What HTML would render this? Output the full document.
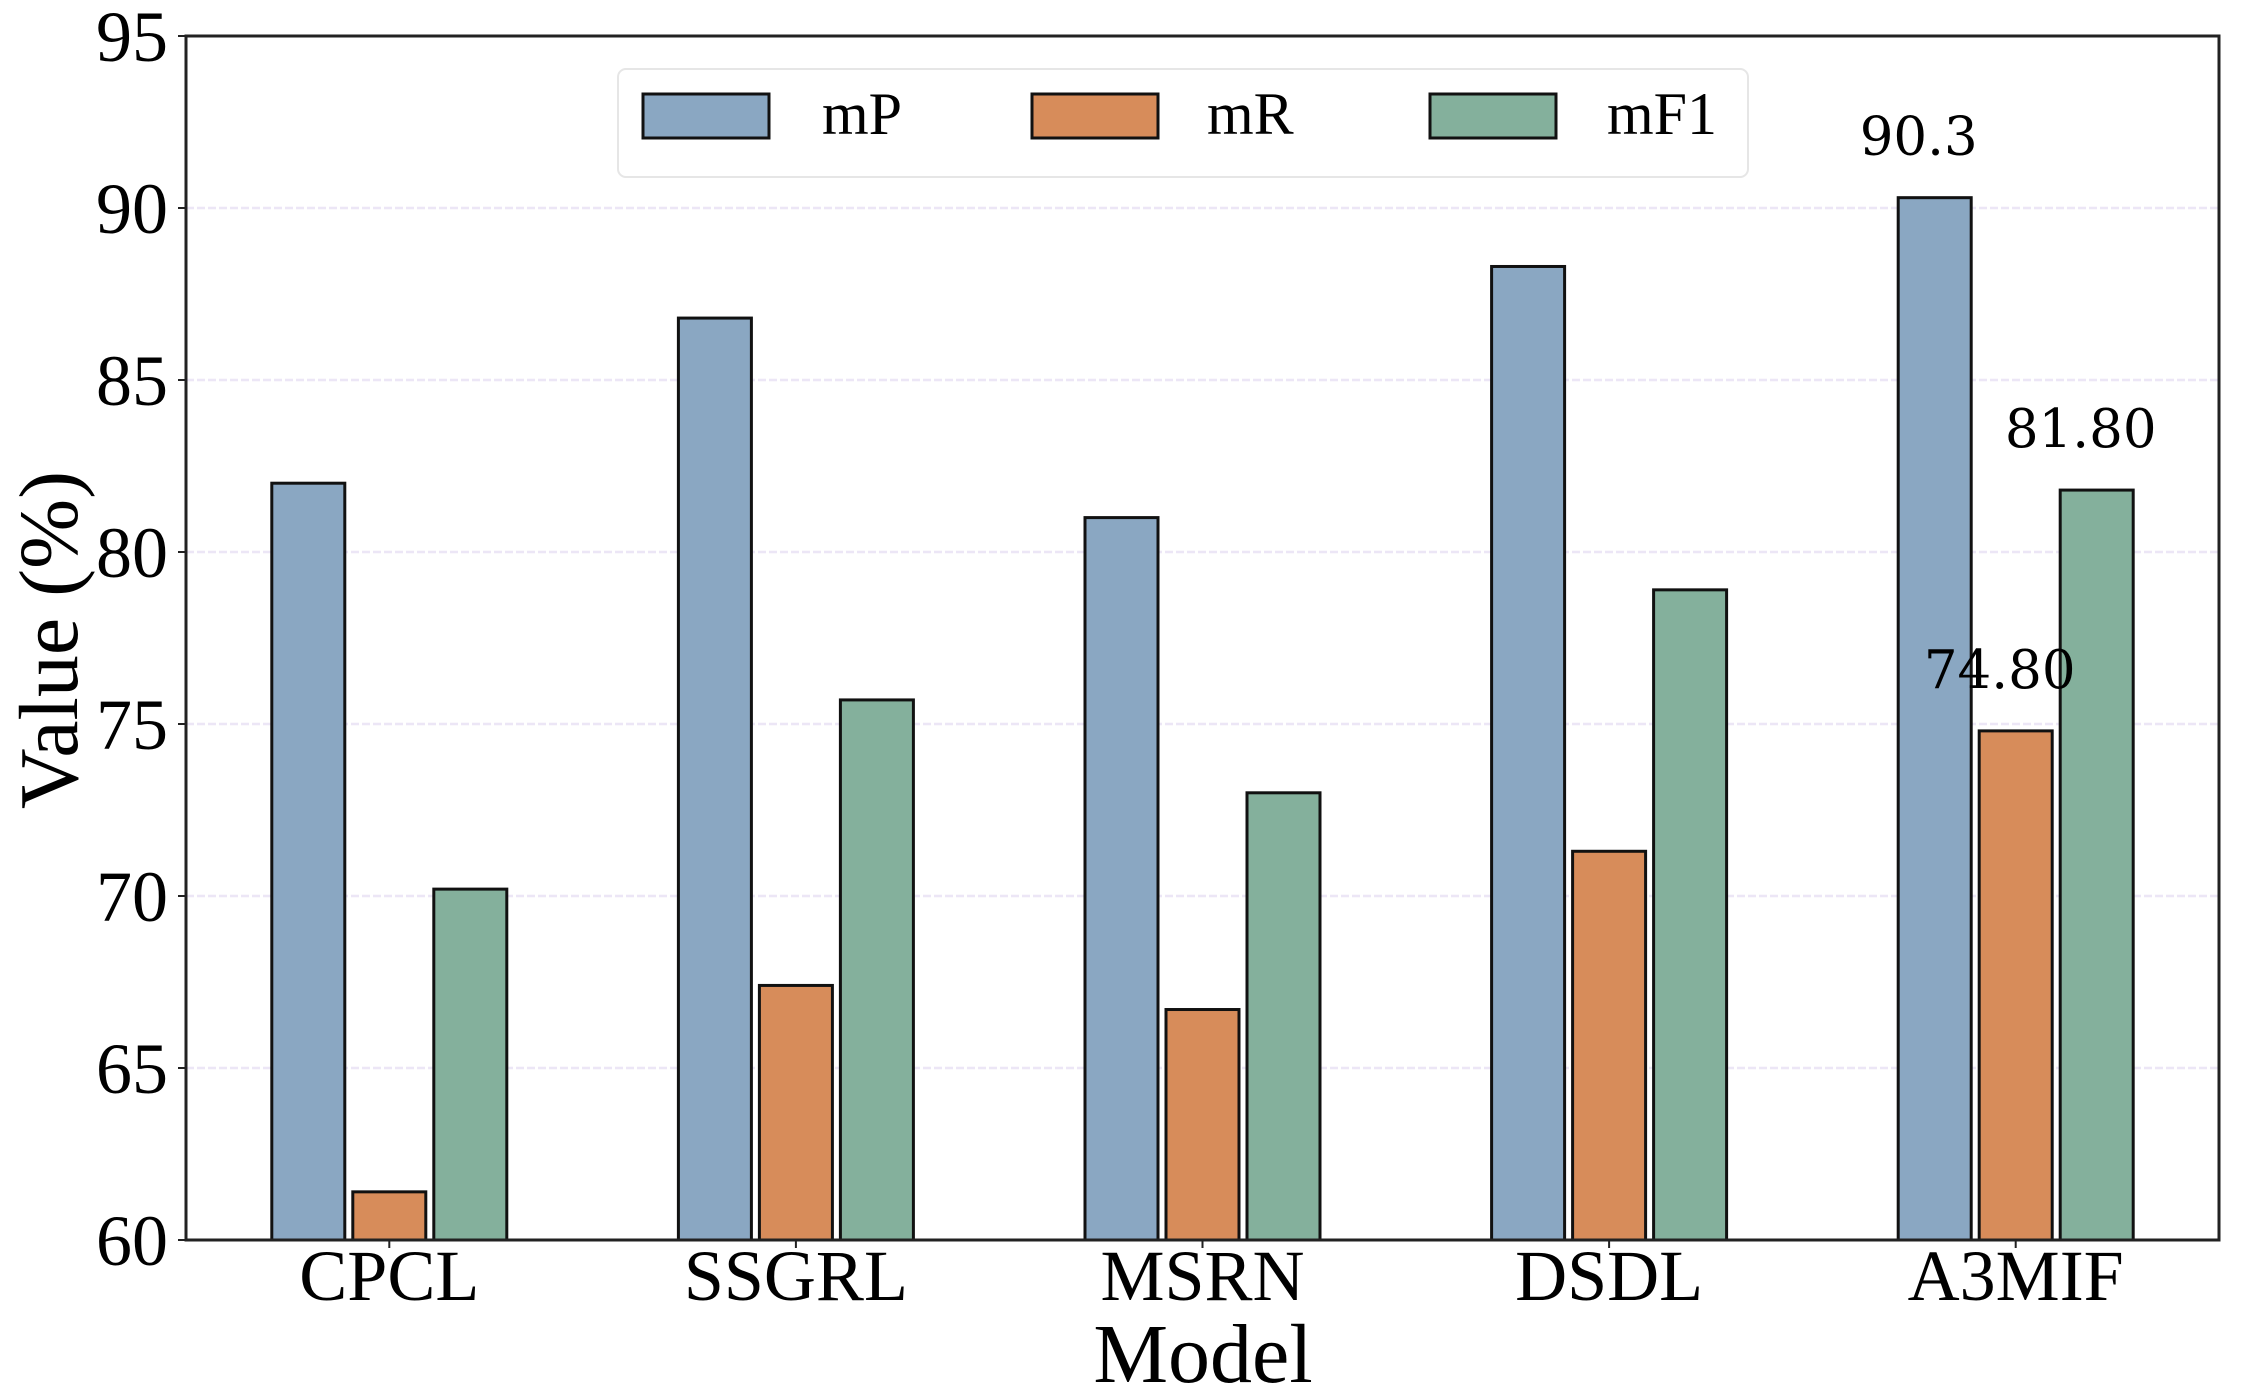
<!DOCTYPE html>
<html><head><meta charset="utf-8"><style>
html,body{margin:0;padding:0;background:#fff;}
svg{display:block;}
text{font-family:"Liberation Serif",serif;fill:#000;}
</style></head><body>
<svg id="chart" width="2242" height="1400" viewBox="0 0 2242 1400" xmlns="http://www.w3.org/2000/svg">
<g id="grid"></g>
<g id="bars"></g>
<rect x="186" y="36" width="2033" height="1204" fill="none" stroke="#222" stroke-width="3"/>
<g id="yticks"></g>
<g id="xticks"></g>
<g id="annots"></g>
<text transform="translate(77,640) rotate(-90)" text-anchor="middle" font-size="84">Value (%)</text>
<text x="1203" y="1382" text-anchor="middle" font-size="84">Model</text>
<g>
<rect x="618" y="69" width="1130" height="108" rx="8" fill="#fff" stroke="#e6e6e6" stroke-width="2"/>
<g>
<rect x="643" y="94" width="126" height="44" fill="#8aa7c2" stroke="#111" stroke-width="3"/>
<text x="822" y="134" font-size="60">mP</text></g>
<g>
<rect x="1032" y="94" width="126" height="44" fill="#d78c5a" stroke="#111" stroke-width="3"/>
<text x="1207" y="134" font-size="60">mR</text></g>
<g>
<rect x="1430" y="94" width="126" height="44" fill="#84b09c" stroke="#111" stroke-width="3"/>
<text x="1607" y="134" font-size="60">mF1</text></g>
</g>
</svg>
<script>
const categories = ["CPCL","SSGRL","MSRN","DSDL","A3MIF"];
const mP = [82.0, 86.8, 81.0, 88.3, 90.3];
const mR = [61.4, 67.4, 66.7, 71.3, 74.8];
const mF1 = [70.2, 75.7, 73.0, 78.9, 81.8];
const yTicks = [60,65,70,75,80,85,90,95];
const annotations = [["90.3",4,0,90.3],["74.80",4,1,74.8],["81.80",4,2,81.8]];

const NS="http://www.w3.org/2000/svg";
const L=186,R=2219,T=36,B=1240,yMin=60,yMax=95;
function y(v){return B-(v-yMin)/(yMax-yMin)*(B-T);}
function xc(i){return L+(i+0.5)*(R-L)/categories.length;}
const bw=73, step=81;
function mk(tag,attrs,parent){const e=document.createElementNS(NS,tag);for(const k in attrs)e.setAttribute(k,attrs[k]);parent.appendChild(e);return e;}
const grid=document.getElementById('grid'),bars=document.getElementById('bars'),yt=document.getElementById('yticks'),xt=document.getElementById('xticks'),an=document.getElementById('annots');
yTicks.forEach(v=>{
  if(v>yMin&&v<yMax){const g=mk('line',{x1:L,x2:R,y1:y(v),y2:y(v),stroke:'#ece6f6','stroke-width':2.5,'stroke-dasharray':'8 3'},grid);
  
  }
  const tk=mk('line',{x1:L-8,x2:L,y1:y(v),y2:y(v),stroke:'#222','stroke-width':2},yt);
  
  
  const t=mk('text',{x:168,y:y(v)+25,'text-anchor':'end','font-size':72},yt);
  
  
  t.textContent=v;
});
const series=[[mP,'#8aa7c2','mp'],[mR,'#d78c5a','mr'],[mF1,'#84b09c','mf1']];
categories.forEach((c,i)=>{
  series.forEach((s,j)=>{
    const cx=xc(i)+(j-1)*step, v=s[0][i];
    const r=mk('rect',{x:cx-bw/2,y:y(v),width:bw,height:B-y(v),fill:s[1],stroke:'#111','stroke-width':3},bars);
    
    
  });
  const tk=mk('line',{x1:xc(i),x2:xc(i),y1:B,y2:B+8,stroke:'#222','stroke-width':2},xt);
  
  
  const t=mk('text',{x:xc(i),y:1300,'text-anchor':'middle','font-size':72},xt);
  
  
  t.textContent=c;
});
annotations.forEach(a=>{
  const cx=xc(a[1])+(a[2]-1)*step-16;
  const t=mk('text',{x:cx,y:y(a[3])-43,'text-anchor':'middle','font-size':53,style:'font-family:"DejaVu Serif",serif'},an);
  
  
  t.textContent=a[0];
});
</script>
</body></html>
